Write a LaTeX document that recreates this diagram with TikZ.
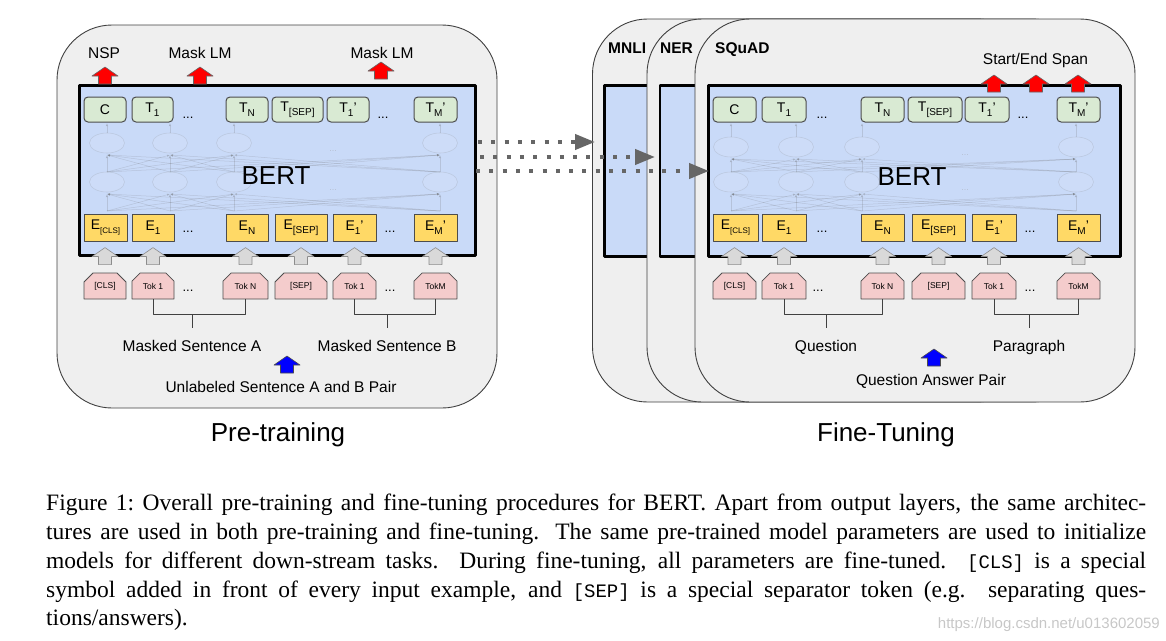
\documentclass[tikz,border=0pt]{standalone}
\usepackage{fontspec}
\setmainfont{Liberation Sans}
\newfontfamily\capfont{Liberation Serif}
\setmonofont{Liberation Mono}
\usetikzlibrary{shapes.misc, arrows.meta}

\definecolor{panelgray}{HTML}{EFEFEF}
\definecolor{bertblue}{HTML}{C9DAF8}
\definecolor{outgreen}{HTML}{D9EAD3}
\definecolor{embyellow}{HTML}{FFD966}
\definecolor{tokpink}{HTML}{F4CCCC}
\definecolor{arrowgray}{HTML}{D9D9D9}
\definecolor{dotgray}{HTML}{666666}

% lowered index inside a box label
\newcommand{\lo}[2][10]{\raisebox{-0.6ex}{\fontsize{#1}{#1}\selectfont #2}}
% typewriter words of the caption
\newcommand{\capcode}[1]{{\ttfamily\fontsize{19}{29}\selectfont #1}}
% block arrow pointing up, tip at #2
\newcommand{\blockarrow}[2][]{%
  \draw[#1] #2 -- ++(13,9) -- ++(-6.5,0) -- ++(0,8) -- ++(-13,0) -- ++(0,-8) -- ++(-6.5,0) -- cycle;}
% faint layers inside a BERT box: columns, y of upper row, x of dots
\newcommand{\bertnet}[3]{%
  \foreach \a in {#1} {
    \foreach \b in {#1} {
      \draw[netline] (\a,172) -- (\b,#2+12);
      \draw[netline] (\a,211) -- (\b,194);
    }
    \draw[netline] (\a,#2-10) -- (\a,123);
    \draw[netnode] (\a,#2) ellipse [x radius=17.5, y radius=10];
    \draw[netnode] (\a,182) ellipse [x radius=17.5, y radius=10];
  }
  \node[netdots] (net-#3-up) at (#3,#2+8) {...};
  \node[netdots] (net-#3-low) at (#3,190) {...};
}

\tikzset{
  panel/.style={fill=panelgray, draw=black!75, line width=0.9pt, rounded corners=55pt},
  bertbox/.style={fill=bertblue, draw=black, line width=2.5pt, inner sep=0pt},
  outbox/.style={fill=outgreen, draw=black!70, line width=1pt, rounded corners=4pt,
    minimum height=25pt, inner sep=0pt, font=\fontsize{14}{14}\selectfont},
  embbox/.style={fill=embyellow, draw=black!70, line width=1pt,
    minimum height=27pt, inner sep=0pt, font=\fontsize{14}{14}\selectfont},
  tokbox/.style={chamfered rectangle, chamfered rectangle corners={north west, north east},
    chamfered rectangle sep=5pt, fill=tokpink, draw=black!70, line width=0.8pt,
    minimum height=26pt, inner sep=0pt, font=\fontsize{8.5}{8.5}\selectfont},
  netline/.style={draw=black!60, opacity=0.2, line width=0.5pt, -{Latex[length=3pt, width=2.5pt]}},
  netnode/.style={draw=black!50, draw opacity=0.2, fill=white, fill opacity=0.08, line width=0.6pt},
  netdots/.style={text=black!40, opacity=0.4, font=\fontsize{9}{9}\selectfont, inner sep=0pt},
  rowdots/.style={anchor=base, inner sep=0pt, font=\fontsize{13}{13}\selectfont},
  lbl/.style={anchor=base, inner sep=0pt, font=\fontsize{15.5}{15.5}\selectfont},
  tasklbl/.style={anchor=base west, inner sep=0pt, font=\bfseries\fontsize{15.5}{15.5}\selectfont},
  bertlbl/.style={anchor=base, inner sep=0pt, font=\fontsize{26}{26}\selectfont},
  titlelbl/.style={anchor=base, inner sep=0pt, font=\fontsize{26}{26}\selectfont},
  redarrow/.style={fill=red, draw=black!60, line width=0.6pt},
  grayarrow/.style={fill=arrowgray, draw=black!45, line width=0.6pt},
  bluearrow/.style={fill=blue, draw=black!70, line width=0.6pt},
  bracket/.style={draw=black!75, line width=1pt},
  dotarrow/.style={draw=dotgray, line width=4pt, dash pattern=on 4pt off 9.3pt,
    -{Triangle[length=20pt, width=15pt]}},
  capline/.style={anchor=base west, text width=1100pt, align=justify, inner sep=0pt,
    font=\capfont\fontsize{23.5}{29}\selectfont},
  fullline/.style={capline, execute at begin node={\parfillskip=0pt\relax}},
}

\begin{document}
\begin{tikzpicture}[x=1pt, y=-1pt, line join=round]

  \useasboundingbox (0,0) rectangle (1166,640);

  % Row levels
  \def\Yout{109.5}
  \def\Yemb{227.5}
  \def\Ytok{286}
  \coordinate (jy) at (0,314);
  \coordinate (jz) at (0,328);

  % ---------------- Pre-training ----------------
  \draw[panel] (57,25) rectangle (497,408);
  \node[bertbox, anchor=north west, minimum width=396pt, minimum height=170pt] (pt-bert) at (78,84) {};
  \bertnet{107,170,234,440}{143}{333}
  \node[bertlbl] (pt-name) at (276,184) {BERT};

  \foreach \i/\x/\w/\txt in {1/105/42/C, 2/152.5/41/T\lo{1}, 3/247/42/T\lo{N},
      4/297.5/51/T\lo{[SEP]}, 5/348/42/T\lo{1}', 6/435.5/43/T\lo{M}'}
    \node[outbox, minimum width=\w pt] (pt-t\i) at (\x,\Yout) {\txt};
  \foreach \i/\x/\w/\txt in {1/105.5/43/{E\lo[8]{[CLS]}}, 2/153/42/E\lo{1}, 3/247/42/E\lo{N},
      4/301/52/E\lo{[SEP]}, 5/354.5/43/E\lo{1}', 6/435.5/43/E\lo{M}'}
    \node[embbox, minimum width=\w pt] (pt-e\i) at (\x,\Yemb) {\txt};
  \foreach \i/\x/\w/\txt in {1/105/42/[CLS], 2/153/42/Tok 1, 3/245.5/45/Tok N,
      4/301/52/[SEP], 5/354.5/43/Tok 1, 6/435.5/43/TokM}
    \node[tokbox, minimum width=\w pt] (pt-k\i) at (\x,\Ytok) {\txt};

  \node[rowdots] (pt-td1) at (188,118) {...};
  \node[rowdots] (pt-td2) at (383,118) {...};
  \node[rowdots] (pt-ed1) at (188,232.5) {...};
  \node[rowdots] (pt-ed2) at (390,232.5) {...};
  \node[rowdots] (pt-kd1) at (188,291.5) {...};
  \node[rowdots] (pt-kd2) at (390,291.5) {...};

  % inputs into the embeddings
  \foreach \i in {1,...,6} {
    \blockarrow[grayarrow]{([yshift=25pt]pt-k\i.north)}
  }

  % outputs
  \node[lbl] (pt-nsp) at (104,58) {NSP};
  \node[lbl] (pt-mlm1) at (200,58) {Mask LM};
  \node[lbl] (pt-mlm2) at (382,58) {Mask LM};
  \blockarrow[redarrow]{(105,67)}
  \blockarrow[redarrow]{(200,67)}
  \blockarrow[redarrow]{(381,62)}

  % sentences
  \node[lbl] (pt-sa) at (192,351) {Masked Sentence A};
  \node[lbl] (pt-sb) at (387,351) {Masked Sentence B};
  \draw[bracket] (pt-k2.south) -- (pt-k2 |- jy) -- (pt-k3 |- jy) -- (pt-k3.south);
  \draw[bracket] (pt-sa |- jy) -- (pt-sa |- jz);
  \draw[bracket] (pt-k5.south) -- (pt-k5 |- jy) -- (pt-k6 |- jy) -- (pt-k6.south);
  \draw[bracket] (pt-sb |- jy) -- (pt-sb |- jz);
  \blockarrow[bluearrow]{(287,356)}
  \node[lbl] (pt-pair) at (281,392.5) {Unlabeled Sentence A and B Pair};

  \node[titlelbl] (pt-title) at (278,441) {Pre-training};

  % ---------------- Fine-Tuning ----------------
  \draw[panel] (592.5,19) rectangle (1032,402);
  \node[bertbox, anchor=north west, minimum width=380pt, minimum height=171pt] (mnli-bert) at (603,84) {};
  \node[tasklbl] (mnli-name) at (608,53) {MNLI};

  \draw[panel] (647,19) rectangle (1087,402);
  \node[bertbox, anchor=north west, minimum width=380pt, minimum height=171pt] (ner-bert) at (658.6,84) {};
  \node[tasklbl] (ner-name) at (660,53) {NER};

  \draw[panel] (695,19) rectangle (1135,402);
  \node[bertbox, anchor=north west, minimum width=412pt, minimum height=171pt] (ft-bert) at (707,84) {};
  \node[tasklbl] (ft-name) at (715,53) {SQuAD};
  \bertnet{731,796,862,1076}{147}{965}
  \node[bertlbl] (ft-lbl) at (912,185) {BERT};

  \foreach \i/\x/\w/\txt in {1/734.5/43/C, 2/784/44/T\lo{1}, 3/882.5/43/T\lo{N},
      4/935/54/T\lo{[SEP]}, 5/987/44/T\lo{1}', 6/1078.5/43/T\lo{M}'}
    \node[outbox, minimum width=\w pt] (ft-t\i) at (\x,\Yout) {\txt};
  \foreach \i/\x/\w/\txt in {1/735.5/45/{E\lo[8]{[CLS]}}, 2/784/44/E\lo{1}, 3/882.5/43/E\lo{N},
      4/938.5/53/E\lo{[SEP]}, 5/994/44/E\lo{1}', 6/1078.5/43/E\lo{M}'}
    \node[embbox, minimum width=\w pt] (ft-e\i) at (\x,\Yemb) {\txt};
  \foreach \i/\x/\w/\txt in {1/734.5/43/[CLS], 2/784/44/Tok 1, 3/882.5/43/Tok N,
      4/938.5/53/[SEP], 5/994/44/Tok 1, 6/1078.5/43/TokM}
    \node[tokbox, minimum width=\w pt] (ft-k\i) at (\x,\Ytok) {\txt};

  \node[rowdots] (ft-td1) at (822,118) {...};
  \node[rowdots] (ft-td2) at (1023,118) {...};
  \node[rowdots] (ft-ed1) at (822,232.5) {...};
  \node[rowdots] (ft-ed2) at (1030,232.5) {...};
  \node[rowdots] (ft-kd1) at (818,291.5) {...};
  \node[rowdots] (ft-kd2) at (1030,291.5) {...};

  \foreach \i in {1,...,6} {
    \blockarrow[grayarrow]{([yshift=25pt]ft-k\i.north)}
  }

  % span outputs
  \node[lbl] (ft-span) at (1035.5,64) {Start/End Span};
  \foreach \x in {994,1036,1078} {
    \blockarrow[redarrow]{(\x,75)}
  }

  \node[lbl] (ft-q) at (826,351) {Question};
  \node[lbl] (ft-p) at (1029,351) {Paragraph};
  \draw[bracket] (ft-k2.south) -- (ft-k2 |- jy) -- (ft-k3 |- jy) -- (ft-k3.south);
  \draw[bracket] (ft-q |- jy) -- (ft-q |- jz);
  \draw[bracket] (ft-k5.south) -- (ft-k5 |- jy) -- (ft-k6 |- jy) -- (ft-k6.south);
  \draw[bracket] (ft-p |- jy) -- (ft-p |- jz);
  \blockarrow[bluearrow]{(934,349)}
  \node[lbl] (ft-pair) at (931,385.5) {Question Answer Pair};

  \node[titlelbl] (ft-title) at (886,441) {Fine-Tuning};

  % ---------------- transfer of the parameters ----------------
  \coordinate (out1) at (478,142);
  \coordinate (out2) at (480,157);
  \coordinate (out3) at (476,171);
  \coordinate (in1) at (595,142);
  \coordinate (in2) at (655,157);
  \coordinate (in3) at (709,171);
  \foreach \k in {1,2,3}
    \draw[dotarrow] (out\k) -- (in\k);

  % ---------------- caption, one node per line ----------------
  \node[fullline] (cap-1) at (46,510) {Figure 1:\ Overall pre-training and fine-tuning procedures for BERT. Apart from output layers, the same architec-};
  \node[fullline] (cap-2) at (46,539) {tures are used in both pre-training and fine-tuning. The same pre-trained model parameters are used to initialize};
  \node[fullline] (cap-3) at (46,568) {models for different down-stream tasks. During fine-tuning, all parameters are fine-tuned. \capcode{[CLS]} is a special};
  \node[fullline] (cap-4) at (46,597) {symbol added in front of every input example, and \capcode{[SEP]} is a special separator token (e.g. separating ques-};
  \node[capline] (cap-5) at (46,625) {tions/answers).};

  \node[anchor=base east, inner sep=0pt, text=black!22, font=\fontsize{15}{15}\selectfont] (mark) at (1160,628) {https://blog.csdn.net/u013602059};

\end{tikzpicture}
\end{document}
